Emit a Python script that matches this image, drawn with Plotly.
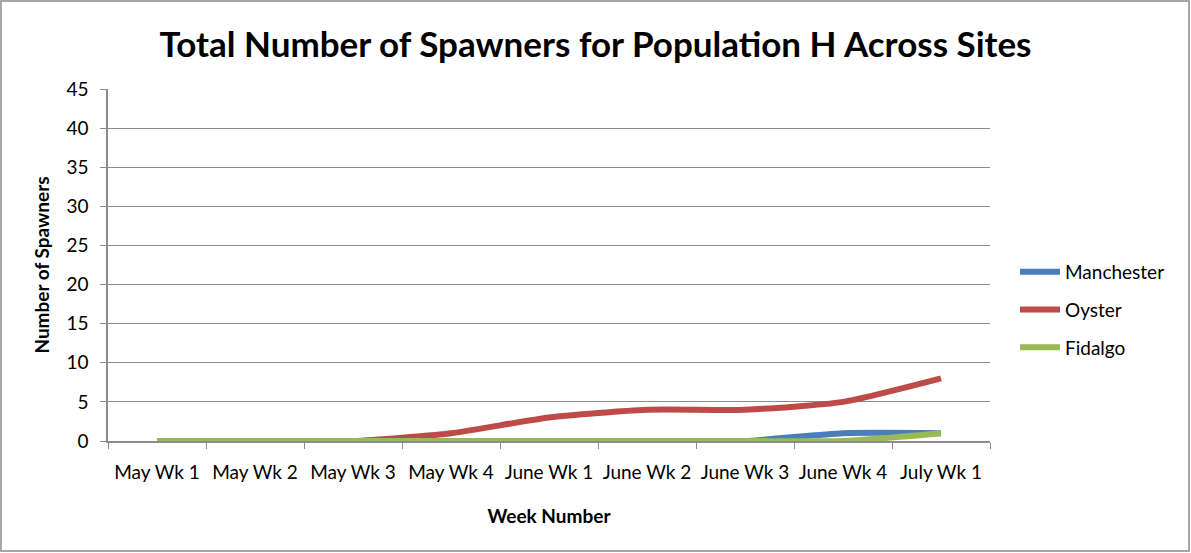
import plotly.graph_objects as go

weeks = ["May Wk 1", "May Wk 2", "May Wk 3", "May Wk 4", "June Wk 1",
         "June Wk 2", "June Wk 3", "June Wk 4", "July Wk 1"]
manchester = [0, 0, 0, 0, 0, 0, 0, 1, 1]
oyster = [0, 0, 0, 1, 3, 4, 4, 5, 8]
fidalgo = [0, 0, 0, 0, 0, 0, 0, 0, 1]

series = [("Manchester", manchester, "#4a7ebb"),
          ("Oyster", oyster, "#be4b48"),
          ("Fidalgo", fidalgo, "#98b954")]

FONT = "Lato, 'Open Sans', sans-serif"

fig = go.Figure()
for name, vals, col in series:
    fig.add_trace(go.Scatter(x=weeks, y=vals, name=name, mode="lines", legendgroup=name,
                             line=dict(color=col, width=6, shape="spline", smoothing=0.6)))

W, H = 1191, 553
L, R, T, B = 108, 990, 89, 441
pw, ph = R - L, B - T

fig.update_layout(
    width=W, height=H,
    margin=dict(l=L, r=W - R, t=T, b=H - B),
    paper_bgcolor="white", plot_bgcolor="white",
    font=dict(family=FONT, size=19, color="black"),
    title=dict(text="<b>Total Number of Spawners for Population H Across Sites</b>",
               x=0.5, xanchor="center", y=1 - 45 / H, yanchor="middle",
               font=dict(size=35, family=FONT)),
    legend=dict(x=(1015 - L) / pw, xanchor="left", y=1 - (310 - T) / ph, yanchor="middle",
                font=dict(size=19), tracegroupgap=10, itemwidth=40, bgcolor="rgba(0,0,0,0)"),
    showlegend=True,
)
fig.update_xaxes(
    type="category", tickson="boundaries", ticks="outside", ticklen=6, tickcolor="#8c8c8c",
    showline=True, linecolor="#8c8c8c", linewidth=1.5, showgrid=False,
    tickfont=dict(size=19), range=[-0.5, 8.5], ticklabelstandoff=13,
    title=dict(text="<b>Week Number</b>", font=dict(size=19), standoff=28),
)
fig.update_yaxes(
    range=[0, 45], dtick=5, ticks="outside", ticklen=6, tickcolor="#8c8c8c",
    showline=True, linecolor="#8c8c8c", linewidth=1.5,
    showgrid=True, gridcolor="#8c8c8c", gridwidth=1.2, zeroline=False,
    tickfont=dict(size=19), ticklabelstandoff=8,
    title=dict(text="<b>Number of Spawners</b>", font=dict(size=19), standoff=12),
)
fig.add_shape(type="rect", xref="paper", yref="paper",
              x0=(1 - L) / pw, x1=(W - 2 - L) / pw,
              y0=1 + (T - (H - 2)) / ph, y1=1 + (T - 1) / ph,
              line=dict(color="#8c8c8c", width=1.5), layer="below")

fig.write_html("out.html", config={"displayModeBar": False},
               post_script="document.body.style.margin='0';document.body.style.overflow='hidden';")
